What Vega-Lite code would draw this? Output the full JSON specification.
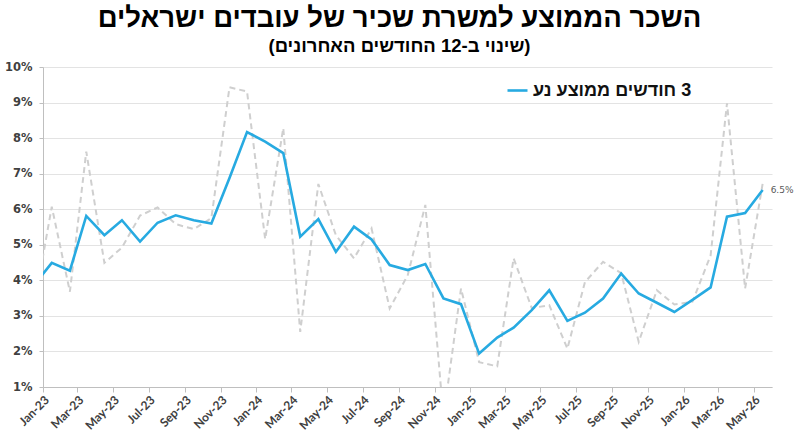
{
  "$schema": "https://vega.github.io/schema/vega-lite/v6.json",
  "autosize": {"type": "none"},
  "width": 729,
  "height": 320,
  "padding": {"left": 43, "top": 67, "right": 23, "bottom": 48},
  "background": "white",
  "title": {
    "text": "השכר הממוצע למשרת שכיר של עובדים ישראלים",
    "subtitle": "(שינוי ב-12 החודשים האחרונים)",
    "anchor": "middle",
    "font": "Liberation Sans",
    "fontSize": 27.5,
    "fontWeight": "bold",
    "color": "#000000",
    "subtitleFont": "Liberation Sans",
    "subtitleFontSize": 18.5,
    "subtitleFontWeight": "bold",
    "subtitleColor": "#000000",
    "subtitlePadding": 4,
    "offset": 6,
    "dx": -8
  },
  "data": {
    "values": [
      {"date": "2022-12-16", "monthly": 0.032, "ma": 0.0385},
      {"date": "2023-01-16", "monthly": 0.0607, "ma": 0.0449},
      {"date": "2023-02-16", "monthly": 0.0368, "ma": 0.0427},
      {"date": "2023-03-16", "monthly": 0.0762, "ma": 0.0581},
      {"date": "2023-04-16", "monthly": 0.0449, "ma": 0.0527},
      {"date": "2023-05-16", "monthly": 0.0492, "ma": 0.0569},
      {"date": "2023-06-16", "monthly": 0.0582, "ma": 0.0509},
      {"date": "2023-07-16", "monthly": 0.0605, "ma": 0.0562},
      {"date": "2023-08-16", "monthly": 0.0558, "ma": 0.0583},
      {"date": "2023-09-16", "monthly": 0.0544, "ma": 0.0569},
      {"date": "2023-10-16", "monthly": 0.0575, "ma": 0.056},
      {"date": "2023-11-16", "monthly": 0.0943, "ma": 0.0688},
      {"date": "2023-12-16", "monthly": 0.0931, "ma": 0.0817},
      {"date": "2024-01-16", "monthly": 0.0516, "ma": 0.079},
      {"date": "2024-02-16", "monthly": 0.0828, "ma": 0.0758},
      {"date": "2024-03-16", "monthly": 0.0255, "ma": 0.0523},
      {"date": "2024-04-16", "monthly": 0.0671, "ma": 0.0572},
      {"date": "2024-05-16", "monthly": 0.0527, "ma": 0.048},
      {"date": "2024-06-16", "monthly": 0.0462, "ma": 0.0551},
      {"date": "2024-07-16", "monthly": 0.0546, "ma": 0.0515},
      {"date": "2024-08-16", "monthly": 0.0321, "ma": 0.0443},
      {"date": "2024-09-16", "monthly": 0.0415, "ma": 0.0429},
      {"date": "2024-10-16", "monthly": 0.0612, "ma": 0.0446},
      {"date": "2024-11-16", "monthly": 0.0015, "ma": 0.0349},
      {"date": "2024-12-16", "monthly": 0.0377, "ma": 0.0333},
      {"date": "2025-01-16", "monthly": 0.017, "ma": 0.0194},
      {"date": "2025-02-16", "monthly": 0.0158, "ma": 0.0239},
      {"date": "2025-03-16", "monthly": 0.0462, "ma": 0.0267},
      {"date": "2025-04-16", "monthly": 0.0322, "ma": 0.0316},
      {"date": "2025-05-16", "monthly": 0.033, "ma": 0.0372},
      {"date": "2025-06-16", "monthly": 0.0208, "ma": 0.0286},
      {"date": "2025-07-16", "monthly": 0.0395, "ma": 0.0309},
      {"date": "2025-08-16", "monthly": 0.0452, "ma": 0.0349},
      {"date": "2025-09-16", "monthly": 0.042, "ma": 0.0419},
      {"date": "2025-10-16", "monthly": 0.0227, "ma": 0.0363},
      {"date": "2025-11-16", "monthly": 0.0372, "ma": 0.0337},
      {"date": "2025-12-16", "monthly": 0.0332, "ma": 0.0311},
      {"date": "2026-01-16", "monthly": 0.034, "ma": 0.0345},
      {"date": "2026-02-16", "monthly": 0.047, "ma": 0.038},
      {"date": "2026-03-16", "monthly": 0.0898, "ma": 0.0579},
      {"date": "2026-04-16", "monthly": 0.0377, "ma": 0.0589},
      {"date": "2026-05-16", "monthly": 0.0672, "ma": 0.0654}
    ]
  },
  "transform": [
    {"fold": ["monthly", "ma"], "as": ["series", "value"]}
  ],
  "config": {
    "view": {"stroke": null},
    "axis": {"title": null}
  },
  "encoding": {
    "x": {
      "field": "date",
      "type": "temporal",
      "scale": {
        "type": "utc",
        "domain": [
          {"year": 2023, "month": 1, "date": 1, "utc": true},
          {"year": 2026, "month": 6, "date": 1, "utc": true}
        ]
      },
      "axis": {
        "format": "%b-%y",
        "tickCount": {"interval": "month", "step": 2},
        "labelAngle": -45,
        "labelAlign": "right",
        "labelBaseline": "top",
        "labelFont": "Lato",
        "labelFontSize": 12,
        "labelFontWeight": "bold",
        "labelColor": "#404040",
        "labelOverlap": false,
        "labelFlush": false,
        "labelPadding": 2,
        "domainColor": "#bfbfbf",
        "tickColor": "#bfbfbf",
        "tickSize": 5,
        "grid": false
      }
    },
    "y": {
      "field": "value",
      "type": "quantitative",
      "scale": {"domain": [0.01, 0.1], "nice": false, "zero": false},
      "axis": {
        "format": ".0%",
        "values": [0.01, 0.02, 0.03, 0.04, 0.05, 0.06, 0.07, 0.08, 0.09, 0.1],
        "grid": true,
        "gridColor": "#e3e3e3",
        "gridWidth": 1,
        "labelOverlap": false,
        "labelBound": false,
        "labelFont": "DejaVu Sans",
        "labelFontSize": 11.5,
        "labelFontWeight": "bold",
        "labelColor": "#404040",
        "domainColor": "#bfbfbf",
        "tickColor": "#bfbfbf",
        "tickSize": 4,
        "labelPadding": 7
      }
    }
  },
  "layer": [
    {
      "transform": [{"filter": "datum.series == 'monthly'"}],
      "mark": {"type": "line", "clip": true, "color": "#cfcfcf", "strokeDash": [6, 4], "strokeWidth": 2}
    },
    {
      "transform": [{"filter": "datum.series == 'ma'"}],
      "mark": {"type": "line", "clip": true, "strokeWidth": 2.6},
      "encoding": {
        "color": {
          "datum": "‏3 חודשים ממוצע נע",
          "scale": {"range": ["#27aae1"]},
          "legend": {
            "orient": "none",
            "legendX": 463,
            "legendY": 12,
            "title": null,
            "symbolType": "stroke",
            "symbolSize": 400,
            "symbolStrokeWidth": 2.6,
            "labelFont": "Liberation Sans",
            "labelFontSize": 18,
            "labelFontWeight": "bold",
            "labelColor": "#111111",
            "labelLimit": 400,
            "padding": 0,
            "symbolOffset": 0,
            "labelOffset": 4
          }
        }
      }
    },
    {
      "transform": [
        {"filter": "datum.series == 'ma'"},
        {"window": [{"op": "rank", "as": "r"}], "sort": [{"field": "date", "order": "descending"}]},
        {"filter": "datum.r == 1"}
      ],
      "mark": {"type": "text", "align": "left", "baseline": "middle", "dx": 8, "font": "DejaVu Sans", "fontSize": 9, "color": "#595959"},
      "encoding": {
        "text": {"field": "value", "type": "quantitative", "format": ".1%"}
      }
    }
  ]
}
